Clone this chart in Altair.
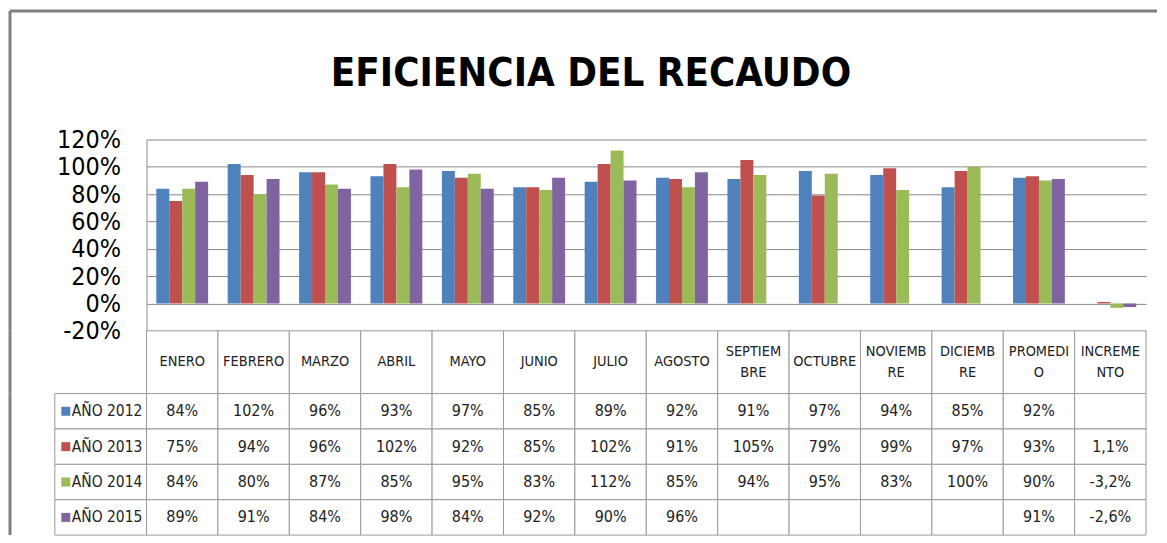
import altair as alt
import pandas as pd

# ---------------- data ----------------
categories = ["ENERO", "FEBRERO", "MARZO", "ABRIL", "MAYO", "JUNIO", "JULIO",
              "AGOSTO", "SEPTIEMBRE", "OCTUBRE", "NOVIEMBRE", "DICIEMBRE",
              "PROMEDIO", "INCREMENTO"]
header_labels = ["ENERO", "FEBRERO", "MARZO", "ABRIL", "MAYO", "JUNIO", "JULIO",
                 "AGOSTO", "SEPTIEM\nBRE", "OCTUBRE", "NOVIEMB\nRE", "DICIEMB\nRE",
                 "PROMEDI\nO", "INCREME\nNTO"]
series = ["AÑO 2012", "AÑO 2013", "AÑO 2014", "AÑO 2015"]
colors = ["#4F81BD", "#C0504D", "#9BBB59", "#8064A2"]

v2012 = [84, 102, 96, 93, 97, 85, 89, 92, 91, 97, 94, 85, 92, None]
v2013 = [75, 94, 96, 102, 92, 85, 102, 91, 105, 79, 99, 97, 93, 1.1]
v2014 = [84, 80, 87, 85, 95, 83, 112, 85, 94, 95, 83, 100, 90, -3.2]
v2015 = [89, 91, 84, 98, 84, 92, 90, 96, None, None, None, None, 91, -2.6]
values_by_series = [v2012, v2013, v2014, v2015]

y_ticks = [-0.2, 0.0, 0.2, 0.4, 0.6, 0.8, 1.0, 1.2]
title_text = "EFICIENCIA DEL RECAUDO"

# ---------------- style ----------------
FONT = "DejaVu Sans Condensed, Liberation Sans Narrow, DejaVu Sans, sans-serif"
GRID = "#8a8a8a"
CELL = "#9a9a9a"
BORDER = "#808080"
TXT = "#222222"
W = 1003
H_BARS = 192
H_HEAD = 63
H_TABLE = 142
LINE_H = 21


def fmt(cat, v):
    if v is None:
        return ""
    if cat == "INCREMENTO":
        return f"{v:.1f}".replace(".", ",") + "%"
    return f"{v:.0f}%"


bar_rows, table_rows = [], []
for s, vals in zip(series, values_by_series):
    for c, v in zip(categories, vals):
        table_rows.append({"series": s, "category": c, "text": fmt(c, v)})
        if v is not None:
            bar_rows.append({"series": s, "category": c, "value": v / 100.0})
bar_df = pd.DataFrame(bar_rows)
table_df = pd.DataFrame(table_rows)
header_df = pd.DataFrame({"category": categories, "label": header_labels,
                          "lines": [lbl.count("\n") + 1 for lbl in header_labels]})
legend_df = pd.DataFrame({"series": series})
one = pd.DataFrame({"k": [0]})

# ---------------- bar chart ----------------
bars = alt.Chart(bar_df).mark_bar().encode(
    x=alt.X("category:N", sort=categories,
            scale=alt.Scale(domain=categories, paddingInner=0.274, paddingOuter=0.137),
            axis=None),
    xOffset=alt.XOffset("series:N", sort=series,
                        scale=alt.Scale(domain=series, paddingInner=0, paddingOuter=0)),
    y=alt.Y("value:Q", scale=alt.Scale(domain=[-0.2, 1.2], nice=False),
            axis=alt.Axis(values=y_ticks, labelExpr="round(datum.value*100) + '%'",
                          title=None, ticks=False, labelFont=FONT, labelFontSize=25,
                          labelColor="#000", labelPadding=26, domainColor=GRID,
                          gridColor=GRID, gridWidth=1)),
    y2=alt.datum(0),
    color=alt.Color("series:N", scale=alt.Scale(domain=series, range=colors), legend=None),
)

title_mark = alt.Chart(one).mark_text(
    text=title_text, font=FONT, fontSize=40, fontWeight="bold", color="#000",
    baseline="alphabetic", align="center"
).encode(x=alt.value(446), y=alt.value(-54))

border_top = alt.Chart(one).mark_rule(color=BORDER, strokeWidth=3).encode(
    x=alt.value(-137), x2=alt.value(1014), y=alt.value(-129))
border_left1 = alt.Chart(one).mark_rule(color=BORDER, strokeWidth=3).encode(
    x=alt.value(-137), y=alt.value(-129), y2=alt.value(H_BARS))

bar_chart = alt.layer(bars, title_mark, border_top, border_left1).properties(
    width=W, height=H_BARS)

# ---------------- header row ----------------
hx = alt.X("category:N", sort=categories,
           scale=alt.Scale(domain=categories, paddingInner=0, paddingOuter=0), axis=None)

head_cells = alt.Chart(header_df).mark_rect(fill="white", stroke=CELL, strokeWidth=1).encode(
    x=hx, y=alt.value(0), y2=alt.value(H_HEAD))
head_text1 = alt.Chart(header_df).transform_filter("datum.lines == 1").mark_text(
    font=FONT, fontSize=14.5, color=TXT, baseline="middle"
).encode(x=hx, y=alt.value(H_HEAD / 2), text="label:N")
head_text2 = alt.Chart(header_df).transform_filter("datum.lines == 2").mark_text(
    font=FONT, fontSize=14.5, lineHeight=LINE_H, lineBreak="\n", color=TXT, baseline="middle"
).encode(x=hx, y=alt.value(H_HEAD / 2 - LINE_H / 2), text="label:N")
border_left2 = alt.Chart(one).mark_rule(color=BORDER, strokeWidth=3).encode(
    x=alt.value(-137), y=alt.value(0), y2=alt.value(H_HEAD))

header_chart = alt.layer(head_cells, head_text1, head_text2, border_left2).properties(
    width=W, height=H_HEAD)

# ---------------- data table ----------------
ty = alt.Y("series:N", sort=series,
           scale=alt.Scale(domain=series, paddingInner=0, paddingOuter=0), axis=None)

cells = alt.Chart(table_df).mark_rect(fill="white", stroke=CELL, strokeWidth=1).encode(x=hx, y=ty)
cell_text = alt.Chart(table_df).mark_text(font=FONT, fontSize=16, color=TXT).encode(
    x=hx, y=ty, text="text:N")
leg_cells = alt.Chart(legend_df).mark_rect(fill="white", stroke=CELL, strokeWidth=1).encode(
    x=alt.value(-92), x2=alt.value(0), y=ty)
leg_sq = alt.Chart(legend_df).mark_square(size=81, opacity=1).encode(
    x=alt.value(-81), y=ty,
    color=alt.Color("series:N", scale=alt.Scale(domain=series, range=colors), legend=None))
leg_txt = alt.Chart(legend_df).mark_text(font=FONT, fontSize=15.5, color=TXT, align="left").encode(
    x=alt.value(-75), y=ty, text="series:N")
border_left3 = alt.Chart(one).mark_rule(color=BORDER, strokeWidth=3).encode(
    x=alt.value(-137), y=alt.value(0), y2=alt.value(H_TABLE))

table_chart = alt.layer(cells, cell_text, leg_cells, leg_sq, leg_txt, border_left3).properties(
    width=W, height=H_TABLE)

chart = alt.vconcat(bar_chart, header_chart, table_chart, spacing=0, bounds="flush").properties(
    padding={"left": 0, "top": 0, "right": 0, "bottom": 0}
).configure_view(stroke=None)

chart.save("out.html", embed_options={"renderer": "svg", "actions": False})
